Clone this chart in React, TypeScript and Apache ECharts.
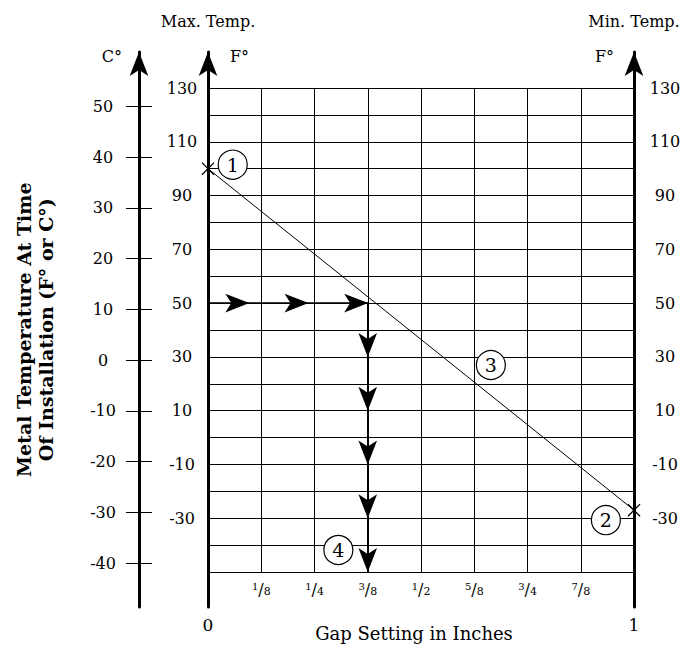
import React, { useEffect, useRef } from 'react';
import * as echarts from 'echarts';

// ---- data ----
const gapTickLabels = ['1/8', '1/4', '3/8', '1/2', '5/8', '3/4', '7/8'];
const gapEndLabels = ['0', '1'];
const fahrenheitLabels = [130, 110, 90, 70, 50, 30, 10, -10, -30];
const fahrenheitRange = [-50, 130];
const celsiusRange = [-40, 50];

const diagGap = [0, 1];
const diagTemp = [100, -27];

const flowGap = [0, 0.375, 0.375];
const flowTemp = [50, 50, -50];
const arrowRightGap = [0.097, 0.236, 0.376];
const arrowRightTemp = [50, 50, 50];
const arrowDownGap = [0.375, 0.375, 0.375, 0.375, 0.375];
const arrowDownTemp = [30, 10, -10, -30, -50];

const markerNames = ['1', '2', '3', '4'];
const markerGap = [0.058, 0.934, 0.664, 0.306];
const markerTemp = [101.5, -30.7, 27, -41.8];

const headerTexts = ['Max. Temp.', 'Min. Temp.'];
const unitF = 'F°';
const unitC = 'C°';
const xTitle = 'Gap Setting in Inches';
const yTitle = 'Metal Temperature At Time\nOf Installation (F° or C°)';

const FONT = '"DejaVu Serif", serif';
const BLACK = '#000';
const X_PATH = 'path://M0,0.7L0.7,0L10,9.3L9.3,10Z M9.3,0L10,0.7L0.7,10L0,9.3Z';
const ARROW_SIZE = [14, 24];

export default function App() {
  const ref = useRef<HTMLDivElement>(null);

  useEffect(() => {
    const chart = echarts.init(ref.current as HTMLDivElement, null, { renderer: 'svg' });

    const lineAxisBase = {
      type: 'value',
      min: 0,
      max: 1,
      axisLine: {
        show: true,
        symbol: ['none', 'arrow'],
        symbolSize: [14, 24],
        lineStyle: { color: BLACK, width: 3 },
      },
      axisTick: { show: false },
      axisLabel: { show: false },
      splitLine: { show: false },
      nameLocation: 'end',
      nameGap: -4,
    };

    const option: any = {
      animation: false,
      backgroundColor: '#fff',
      textStyle: { fontFamily: FONT, color: BLACK },
      grid: [
        { left: 208, right: 49, top: 88, bottom: 73, outerBoundsMode: 'none' },
        { left: 208, right: 49, top: 52, bottom: 38, outerBoundsMode: 'none' },
        { left: 139, width: 1, top: 106.5, bottom: 82, outerBoundsMode: 'none' },
        { left: 139, width: 1, top: 52, bottom: 38, outerBoundsMode: 'none' },
      ],
      xAxis: [
        {
          gridIndex: 0,
          type: 'value',
          position: 'bottom',
          min: 0,
          max: 1,
          interval: 0.125,
          axisLine: { show: true, lineStyle: { color: BLACK, width: 1 } },
          axisTick: { show: false },
          splitLine: { show: true, lineStyle: { color: BLACK, width: 1 } },
          axisLabel: {
            margin: 9,
            color: BLACK,
            fontFamily: FONT,
            formatter: (v: number) => {
              const k = Math.round(v * 8);
              if (k < 1 || k > 7) return '';
              const [n, d] = gapTickLabels[k - 1].split('/');
              return `{n|${n}}{s|/}{d|${d}}`;
            },
            rich: {
              n: { fontSize: 10, fontFamily: FONT, color: BLACK, verticalAlign: 'top' },
              s: { fontSize: 16, fontFamily: FONT, color: BLACK, verticalAlign: 'middle' },
              d: { fontSize: 11, fontFamily: FONT, color: BLACK, verticalAlign: 'bottom' },
            },
          },
          name: `{t|${xTitle}}`,
          nameLocation: 'middle',
          nameGap: 52,
          nameTextStyle: {
            fontSize: 18,
            fontFamily: FONT,
            color: BLACK,
            padding: [0, 14, 0, 0],
            rich: { t: { fontSize: 18, fontFamily: FONT, color: BLACK } },
          },
        },
        {
          gridIndex: 0,
          type: 'value',
          position: 'bottom',
          min: 0,
          max: 1,
          interval: 1,
          axisLine: { show: false },
          axisTick: { show: false },
          splitLine: { show: false },
          axisLabel: {
            margin: 44,
            fontSize: 17,
            fontFamily: FONT,
            color: BLACK,
            formatter: (v: number) => (v === 0 ? gapEndLabels[0] : v === 1 ? gapEndLabels[1] : ''),
          },
        },
        { gridIndex: 1, type: 'value', min: 0, max: 1, show: false },
        { gridIndex: 2, type: 'value', min: 0, max: 1, show: false },
        { gridIndex: 3, type: 'value', min: 0, max: 1, show: false },
      ],
      yAxis: [
        {
          gridIndex: 0,
          type: 'value',
          position: 'left',
          min: fahrenheitRange[0],
          max: fahrenheitRange[1],
          interval: 10,
          axisLine: { show: false },
          axisTick: { show: false },
          splitLine: { show: true, lineStyle: { color: BLACK, width: 1 } },
          axisLabel: {
            margin: 26,
            align: 'center',
            fontSize: 16,
            fontFamily: FONT,
            color: BLACK,
            padding: [5, 0, 0, 0],
            formatter: (v: number) => (fahrenheitLabels.includes(v) ? String(v) : ''),
          },
        },
        {
          gridIndex: 0,
          type: 'value',
          position: 'right',
          min: fahrenheitRange[0],
          max: fahrenheitRange[1],
          interval: 10,
          axisLine: { show: false },
          axisTick: { show: false },
          splitLine: { show: false },
          axisLabel: {
            margin: 31,
            align: 'center',
            fontSize: 16,
            fontFamily: FONT,
            color: BLACK,
            padding: [5, 0, 0, 0],
            formatter: (v: number) => (fahrenheitLabels.includes(v) ? String(v) : ''),
          },
        },
        {
          ...lineAxisBase,
          gridIndex: 1,
          position: 'left',
          name: unitF,
          nameTextStyle: { fontSize: 16, fontFamily: FONT, color: BLACK, align: 'left', verticalAlign: 'middle', padding: [0, 0, 0, 22] },
        },
        {
          ...lineAxisBase,
          gridIndex: 1,
          position: 'right',
          name: unitF,
          nameTextStyle: { fontSize: 16, fontFamily: FONT, color: BLACK, align: 'right', verticalAlign: 'middle', padding: [0, 20, 0, 0] },
        },
        {
          gridIndex: 2,
          type: 'value',
          position: 'left',
          min: celsiusRange[0],
          max: celsiusRange[1],
          interval: 10,
          axisLine: { show: false },
          axisTick: { show: true, length: 13, lineStyle: { color: BLACK, width: 1 } },
          splitLine: { show: false },
          axisLabel: { margin: 36, align: 'center', fontSize: 16, fontFamily: FONT, color: BLACK },
          name: yTitle,
          nameLocation: 'middle',
          nameRotate: 90,
          nameGap: 82,
          nameTextStyle: {
            fontSize: 19,
            fontWeight: 'bold',
            fontFamily: FONT,
            color: BLACK,
            lineHeight: 22,
            align: 'center',
            padding: [0, 0, 0, 10],
          },
        },
        {
          gridIndex: 2,
          type: 'value',
          position: 'left',
          min: celsiusRange[0],
          max: celsiusRange[1],
          interval: 10,
          axisLine: { show: false },
          axisTick: { show: true, inside: true, length: 13, lineStyle: { color: BLACK, width: 1 } },
          splitLine: { show: false },
          axisLabel: { show: false },
        },
        {
          ...lineAxisBase,
          gridIndex: 3,
          position: 'left',
          name: unitC,
          nameTextStyle: { fontSize: 16, fontFamily: FONT, color: BLACK, align: 'right', verticalAlign: 'middle', padding: [0, 17, 0, 0] },
        },
      ],
      graphic: [
        {
          type: 'text',
          x: 208,
          y: 21,
          style: { text: headerTexts[0], font: `16px ${FONT}`, fill: BLACK, textAlign: 'center', textVerticalAlign: 'middle' },
        },
        {
          type: 'text',
          x: 634,
          y: 21,
          style: { text: headerTexts[1], font: `16px ${FONT}`, fill: BLACK, textAlign: 'center', textVerticalAlign: 'middle' },
        },
      ],
      series: [
        {
          type: 'line',
          xAxisIndex: 0,
          yAxisIndex: 0,
          clip: false,
          data: diagGap.map((g, i) => [g, diagTemp[i]]),
          symbol: X_PATH,
          symbolSize: 13,
          itemStyle: { color: BLACK },
          lineStyle: { color: BLACK, width: 1 },
          z: 3,
        },
        {
          type: 'line',
          xAxisIndex: 0,
          yAxisIndex: 0,
          clip: false,
          data: flowGap.map((g, i) => [g, flowTemp[i]]),
          symbol: 'none',
          lineStyle: { color: BLACK, width: 1.5 },
          z: 3,
        },
        {
          type: 'scatter',
          xAxisIndex: 0,
          yAxisIndex: 0,
          clip: false,
          data: arrowRightGap.map((g, i) => [g, arrowRightTemp[i]]),
          symbol: 'arrow',
          symbolSize: ARROW_SIZE,
          symbolRotate: -90,
          itemStyle: { color: BLACK, opacity: 1 },
          z: 4,
        },
        {
          type: 'scatter',
          xAxisIndex: 0,
          yAxisIndex: 0,
          clip: false,
          data: arrowDownGap.map((g, i) => [g, arrowDownTemp[i]]),
          symbol: 'arrow',
          symbolSize: ARROW_SIZE,
          symbolRotate: 180,
          itemStyle: { color: BLACK, opacity: 1 },
          z: 4,
        },
        {
          type: 'scatter',
          xAxisIndex: 0,
          yAxisIndex: 0,
          clip: false,
          data: markerNames.map((n, i) => ({ name: n, value: [markerGap[i], markerTemp[i]] })),
          symbol: 'circle',
          symbolSize: 29,
          itemStyle: { color: '#fff', borderColor: BLACK, borderWidth: 1.2, opacity: 1 },
          label: { show: true, position: 'inside', formatter: '{b}', fontSize: 19, color: BLACK, fontFamily: FONT },
          z: 5,
        },
      ],
    };

    chart.setOption(option);
    return () => chart.dispose();
  }, []);

  return (
    <div
      ref={ref}
      style={{ position: 'absolute', left: 0, top: 0, width: 683, height: 645, background: '#fff' }}
    />
  );
}
